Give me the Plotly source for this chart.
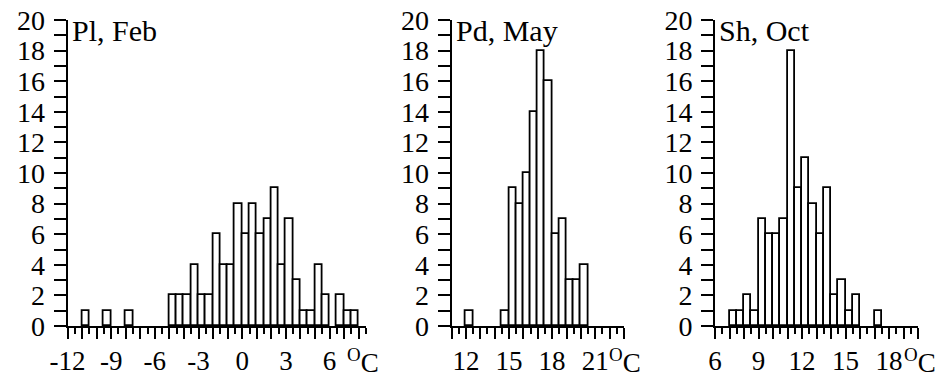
import numpy as np
import plotly.graph_objects as go

# ---- data (histogram counts, 0.5 degC bins, given by lower bin edge) ----
pl_feb_start = -11.0
pl_feb_counts = [1, 0, 0, 1, 0, 0, 1, 0, 0, 0, 0, 0,
                 2, 2, 2, 4, 2, 2, 6, 4, 4, 8, 6, 8, 6, 7, 9, 4, 7, 3, 1, 1, 4, 2, 0, 2, 1, 1]
pd_may_start = 12.0
pd_may_counts = [1, 0, 0, 0, 0, 1, 9, 8, 10, 14, 18, 16, 6, 7, 3, 3, 4]
sh_oct_start = 7.0
sh_oct_counts = [1, 1, 2, 1, 7, 6, 6, 7, 18, 9, 11, 8, 6, 9, 2, 3, 1, 2, 0, 0, 1]
bin_width = 0.5

titles = ["Pl, Feb", "Pd, May", "Sh, Oct"]
x_ranges = [[-12, 8.5], [11, 23], [6, 20]]
x_labels = [[-12, -9, -6, -3, 0, 3, 6], [12, 15, 18, 21], [6, 9, 12, 15, 18]]
y_labels = [0, 2, 4, 6, 8, 10, 12, 14, 16, 18, 20]

W, H = 945, 378
FONT = "Liberation Serif"
# panel pixel geometry
x_dom_px = [(67.5, 366), (451.5, 624), (715, 918)]
y_bot_px, y_top_px = 326, 20

series = [(pl_feb_start, pl_feb_counts), (pd_may_start, pd_may_counts), (sh_oct_start, sh_oct_counts)]

fig = go.Figure()
for i, (start, counts) in enumerate(series):
    counts = np.array(counts)
    centers = start + bin_width * np.arange(len(counts)) + bin_width / 2
    m = counts > 0
    ax = "" if i == 0 else str(i + 1)
    fig.add_trace(go.Bar(
        x=centers[m], y=counts[m], width=bin_width,
        marker=dict(color="white", line=dict(color="black", width=1.8)),
        xaxis="x" + ax, yaxis="y" + ax, showlegend=False,
    ))
    lo, hi = x_ranges[i]
    ints = list(range(int(np.ceil(lo)), int(np.floor(hi)) + 1))
    halves = [v + 0.5 for v in ints if lo <= v + 0.5 <= hi]
    xd = [x_dom_px[i][0] / W, x_dom_px[i][1] / W]
    yd = [(H - y_bot_px) / H, (H - y_top_px) / H]
    fig.layout["xaxis" + ax] = dict(
        domain=xd, range=[lo, hi], anchor="y" + ax, automargin=False,
        tickmode="array", tickvals=ints,
        ticktext=[str(v) if v in x_labels[i] else "" for v in ints],
        ticks="outside", ticklen=11, tickwidth=1.8, tickcolor="black",
        minor=dict(tickmode="array", tickvals=halves, ticks="outside",
                   ticklen=6, tickwidth=1.8, tickcolor="black"),
        showline=True, linewidth=2, linecolor="black",
        showgrid=False, zeroline=False,
        tickfont=dict(family=FONT, size=27, color="black"),
        ticklabelstandoff=-1,
    )
    fig.layout["yaxis" + ax] = dict(
        domain=yd, range=[0, 20], anchor="x" + ax, automargin=False,
        tickmode="array", tickvals=list(range(21)),
        ticktext=[str(v) if v in y_labels else "" for v in range(21)],
        ticks="outside", ticklen=12, tickwidth=1.8, tickcolor="black",
        showline=True, linewidth=2, linecolor="black",
        showgrid=False, zeroline=False,
        tickfont=dict(family=FONT, size=28, color="black"),
        ticklabelstandoff=3,
    )
    fig.add_annotation(
        text=titles[i], xref="paper", yref="paper",
        x=(x_dom_px[i][0] + 2) / W, y=(H - 31) / H,
        xanchor="left", yanchor="middle", showarrow=False,
        font=dict(family=FONT, size=30, color="black"),
    )

unit_x_px = [345, 607, 902]
for px in unit_x_px:
    fig.add_annotation(
        text="<sup>O</sup>C", xref="paper", yref="paper",
        x=px / W, y=(H - 361) / H, xanchor="left", yanchor="middle",
        showarrow=False, font=dict(family=FONT, size=27, color="black"),
    )

fig.update_layout(
    width=W, height=H, margin=dict(l=0, r=0, t=0, b=0, pad=0),
    paper_bgcolor="white", plot_bgcolor="white",
    font=dict(family=FONT, color="black"),
    bargap=0, showlegend=False,
)
fig.write_html("out.html")
